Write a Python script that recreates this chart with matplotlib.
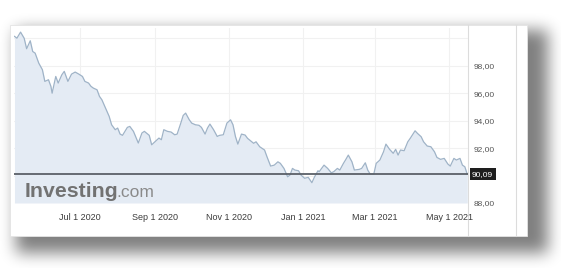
import matplotlib
matplotlib.use('Agg')
import matplotlib.pyplot as plt
import matplotlib.transforms as transforms
from matplotlib.patches import Rectangle
import numpy as np
import pandas as pd

# Price history (days counted from Jul 1 2020)
START = pd.Timestamp('2020-07-01')
day_offsets = [
    -54, -52, -49, -46, -44, -41, -39, -37, -34, -31, -29, -26, -24, -23, -20,
    -18, -15, -13, -10, -7, -4, -1, 2, 4, 7, 9, 11, 14, 16, 18, 21, 24, 26, 29,
    31, 33, 35, 39, 41, 44, 48, 51, 53, 57, 59, 62, 65, 67, 69, 72, 75, 78, 80,
    83, 85, 87, 90, 92, 95, 98, 100, 103, 105, 107, 110, 113, 115, 118, 121,
    124, 126, 128, 130,
    133, 136, 138, 143, 145, 148, 152, 154, 157, 160, 163, 165, 168, 171, 173,
    175, 177, 180, 182, 185, 188, 191, 193, 196, 197, 201, 204, 207, 209, 212,
    214, 217, 219, 221, 224, 226, 230, 232, 235, 237, 239, 242, 244, 247, 250,
    252, 255, 258, 260, 262, 264, 267, 270, 272, 276, 278, 281, 283, 286, 289,
    292, 294, 297, 300, 303, 305, 308, 310, 313, 315, 317, 319]
prices = [
    100.14, 100.01, 100.45, 100.0, 99.24, 99.82, 99.04, 98.92, 98.19, 97.71,
    96.86, 96.98, 96.5, 96.0, 97.22, 96.74, 97.34, 97.59, 96.86, 97.39,
    97.54, 97.39, 97.22, 96.86, 96.74, 96.5, 96.37, 96.25, 95.77, 95.52,
    94.92, 94.31, 93.7, 93.34, 93.46, 93.02, 92.93, 93.51, 93.58, 93.22,
    92.37, 93.1, 93.22, 92.93, 92.24, 92.49, 92.73, 92.61, 93.34, 93.22,
    93.17, 92.97, 93.02, 93.82, 94.38, 94.55, 94.06, 93.82, 93.7, 93.66,
    93.51, 93.02, 93.46, 93.75, 93.34, 92.85, 92.93, 92.97, 93.82, 94.06,
    93.7, 92.85, 92.29,
    93.02, 92.95, 92.71, 92.35, 92.46, 92.1, 91.86, 91.37, 90.69, 90.76,
    91.0, 90.89, 90.52, 89.91, 90.04, 90.52, 90.4, 90.35, 90.04, 89.8,
    89.87, 89.48, 89.87, 90.35, 90.28, 90.76, 90.52, 90.2, 90.28, 90.52,
    90.4, 90.89, 91.18, 91.49, 91.0, 90.4, 90.45, 90.52, 90.93, 90.4,
    90.11, 90.11, 90.89, 91.13, 91.73, 92.29, 91.91, 91.62, 91.91, 91.49,
    91.86, 91.81, 92.46, 92.71, 93.26, 93.07, 92.83, 92.46, 92.15, 92.1,
    91.73, 91.32, 91.18, 91.25, 90.84, 90.69, 91.25, 91.13, 91.25, 90.76,
    90.64, 90.09]

tick_dates = ['2020-07-01', '2020-09-01', '2020-11-01',
              '2021-01-01', '2021-03-01', '2021-05-01']
tick_labels = ['Jul 1 2020', 'Sep 1 2020', 'Nov 1 2020',
               'Jan 1 2021', 'Mar 1 2021', 'May 1 2021']
y_ticks = [88, 90, 92, 94, 96, 98, 100]
y_labels = ['88,00', '', '92,00', '94,00', '96,00', '98,00', '']

W, H = 561, 268
FILL = '#e4ebf4'
LINE = '#9fb3c7'


def blur(a, r):
    k = np.ones(2 * r + 1) / (2 * r + 1)
    a = np.apply_along_axis(lambda m: np.convolve(m, k, mode='same'), 0, a)
    a = np.apply_along_axis(lambda m: np.convolve(m, k, mode='same'), 1, a)
    return a


def main():
    fig = plt.figure(figsize=(W / 100, H / 100), dpi=100)

    # card with soft drop shadow
    bg = fig.add_axes([0, 0, 1, 1])
    bg.axis('off')
    yy, xx = np.mgrid[0:H, 0:W]
    mask = ((xx >= 16) & (xx <= 547) & (yy >= 30) & (yy <= 252)).astype(float)
    for _ in range(3):
        mask = blur(mask, 7)
    shadow = np.zeros((H, W, 4))
    shadow[..., 3] = mask * 0.5
    bg.imshow(shadow, extent=(0, W, H, 0), interpolation='bilinear')
    bg.add_patch(Rectangle((10, 25), 517, 211, facecolor='white',
                           edgecolor='#e4e4e4', linewidth=0.6))
    bg.plot([468, 468], [25, 236], color='#dcdcdc', linewidth=0.8)
    bg.plot([516, 516], [25, 236], color='#dcdcdc', linewidth=0.8)
    bg.set_xlim(0, W)
    bg.set_ylim(H, 0)

    dates = START + pd.to_timedelta(day_offsets, unit='D')

    ax = fig.add_axes([14 / W, (H - 203) / H, 454 / W, 175 / H])
    ax.patch.set_alpha(0)
    ax.fill_between(dates, prices, 88, color=FILL, linewidth=0)
    ax.plot(dates, prices, color=LINE, linewidth=0.9)
    ax.axhline(prices[-1], color='#5b6068', linewidth=1.3)

    ax.set_xlim(START + pd.Timedelta(days=-54.4), START + pd.Timedelta(days=319.6))
    ax.set_ylim(88, 100.75)
    for s in ax.spines.values():
        s.set_visible(False)

    ax.set_xticks(pd.to_datetime(tick_dates))
    ax.set_xticklabels(tick_labels, fontsize=6.5, color='#3c3c3c',
                       family='Liberation Sans')
    ax.yaxis.tick_right()
    ax.set_yticks(y_ticks)
    ax.set_yticklabels(y_labels, fontsize=6, color='#555555',
                       family='Liberation Sans')
    ax.tick_params(axis='x', length=0, pad=7)
    ax.tick_params(axis='y', length=0, pad=4)
    ax.grid(True, color='#f1f1f1', linewidth=0.8)
    ax.set_axisbelow(True)

    trans = transforms.blended_transform_factory(ax.transAxes, ax.transData)
    last = f'{prices[-1]:.2f}'.replace('.', ',')
    ax.text(1.0 + 4 / 454, prices[-1], last, transform=trans, ha='left',
            va='center', fontsize=6, color='white', family='Liberation Sans',
            bbox=dict(boxstyle='square,pad=0.3', fc='#1e1e1e', ec='none'))

    # watermark
    fig.text(25 / W, (H - 197.3) / H, 'Investing', fontsize=15.3,
             fontweight='bold', color='#727272', family='Liberation Sans',
             va='baseline')
    fig.text(116 / W, (H - 197.3) / H, '.com', fontsize=12.5, color='#8a8a8a',
             family='Liberation Sans', va='baseline')

    fig.savefig('out.png', dpi=100)


if __name__ == '__main__':
    main()
